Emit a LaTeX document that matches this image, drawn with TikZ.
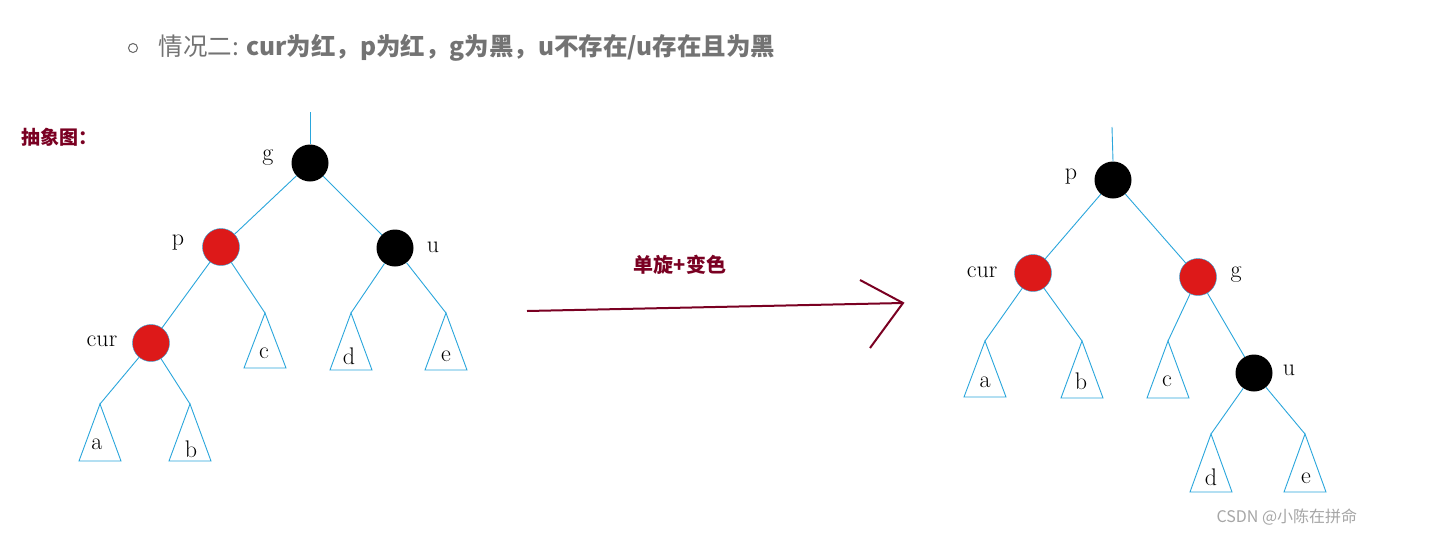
\documentclass[tikz,border=0pt]{standalone}
\usepackage{fontspec}
\newfontfamily\cjk{Noto Sans CJK SC}
\definecolor{ln}{HTML}{2AA6DC}
\definecolor{dred}{HTML}{7A0022}
\begin{document}
\begin{tikzpicture}[x=1pt,y=-1pt,
  edge/.style={draw=ln,line width=0.9pt},
  rn/.style={circle,fill=red!85!black!90,draw=ln,inner sep=0pt,minimum size=37pt},
  bn/.style={circle,fill=black,inner sep=0pt,minimum size=37pt},
  lab/.style={font=\fontsize{24}{26}\selectfont},
  tri/.style={edge},
  dr/.style={draw=dred,line width=2pt}]
\useasboundingbox (0,0) rectangle (1429,536);
\fill[white] (0,0) rectangle (1429,536);
% header
\node[circle,draw=gray!80!black,line width=1pt,minimum size=9pt,inner sep=0pt] (bul) at (133,48) {};
\node[anchor=west,text=gray!90!black,font=\cjk\fontsize{24.5}{26}\selectfont] (hdr) at (155,48) {情况二: \textbf{cur为红，p为红，g为黑，u不存在/u存在且为黑}};
\node[anchor=west,text=dred,font=\cjk\bfseries\fontsize{19}{20}\selectfont] (abs) at (18,137) {抽象图：};
% left tree
\node[bn] (g) at (310,163) {};
\coordinate (gt) at (310,112);
\node[rn] (p) at (221,247) {};
\node[bn] (u) at (395,248) {};
\node[rn] (cur) at (151,343) {};
\node[lab] (lg) at (268,158) {g};
\node[lab] (lp) at (178,243) {p};
\node[lab] (lu) at (433,247) {u};
\node[lab] (lcur) at (102,341) {cur};
\draw[edge] (gt) -- (g.north);
\draw[edge] (g) -- (p); \draw[edge] (g) -- (u); \draw[edge] (p) -- (cur);
\foreach \n/\x/\y/\b in {c/265/313/368, d/351/313/370, e/446/313/370, a/100/404/461, bb/190/404/461}{
  \coordinate (t\n) at (\x,\y);
  \draw[tri] (t\n) -- (\x-21,\b) -- (\x+21,\b) -- cycle;
}
\node[lab] (la) at (97,444) {a};
\node[lab] (lb) at (191,449) {b};
\node[lab] (lc) at (264,353) {c};
\node[lab] (ld) at (349,356) {d};
\node[lab] (le) at (446,356) {e};
\draw[edge] (p) -- (tc); \draw[edge] (u) -- (td); \draw[edge] (u) -- (te);
\draw[edge] (cur) -- (ta); \draw[edge] (cur) -- (tbb);
% arrow
\coordinate (as) at (527,311);
\coordinate (ae) at (903,303);
\draw[dr] (as) -- (ae);
\draw[dr] (860,280) -- (ae) -- (870,348);
\node[text=dred,font=\cjk\bfseries\fontsize{20}{22}\selectfont] (op) at (680,265) {单旋+变色};
% right tree
\node[bn] (P) at (1113,180) {};
\coordinate (Pt) at (1112,127);
\node[rn] (CUR) at (1033,273) {};
\node[rn] (G) at (1198,277) {};
\node[bn] (U) at (1254,373) {};
\node[lab] (LP) at (1071,177) {p};
\node[lab] (LCUR) at (982,272) {cur};
\node[lab] (LG) at (1236,275) {g};
\node[lab] (LU) at (1289,370) {u};
\draw[edge] (Pt) -- (P.north);
\draw[edge] (P) -- (CUR); \draw[edge] (P) -- (G); \draw[edge] (G) -- (U);
\foreach \n/\x/\y/\b in {A/985/341/397, B/1082/341/398, C/1168/341/398, D/1211/434/492, E/1305/434/492}{
  \coordinate (T\n) at (\x,\y);
  \draw[tri] (T\n) -- (\x-21,\b) -- (\x+21,\b) -- cycle;
}
\node[lab] (LA) at (985,382) {a};
\node[lab] (LB) at (1081,381) {b};
\node[lab] (LC) at (1167,381) {c};
\node[lab] (LD) at (1211,477) {d};
\node[lab] (LE) at (1306,478) {e};
\draw[edge] (CUR) -- (TA); \draw[edge] (CUR) -- (TB); \draw[edge] (G) -- (TC);
\draw[edge] (U) -- (TD); \draw[edge] (U) -- (TE);
\node[anchor=west,text=gray!70,font=\cjk\fontsize{16}{17}\selectfont] (wm) at (1213,517) {CSDN @小陈在拼命};
\end{tikzpicture}
\end{document}
